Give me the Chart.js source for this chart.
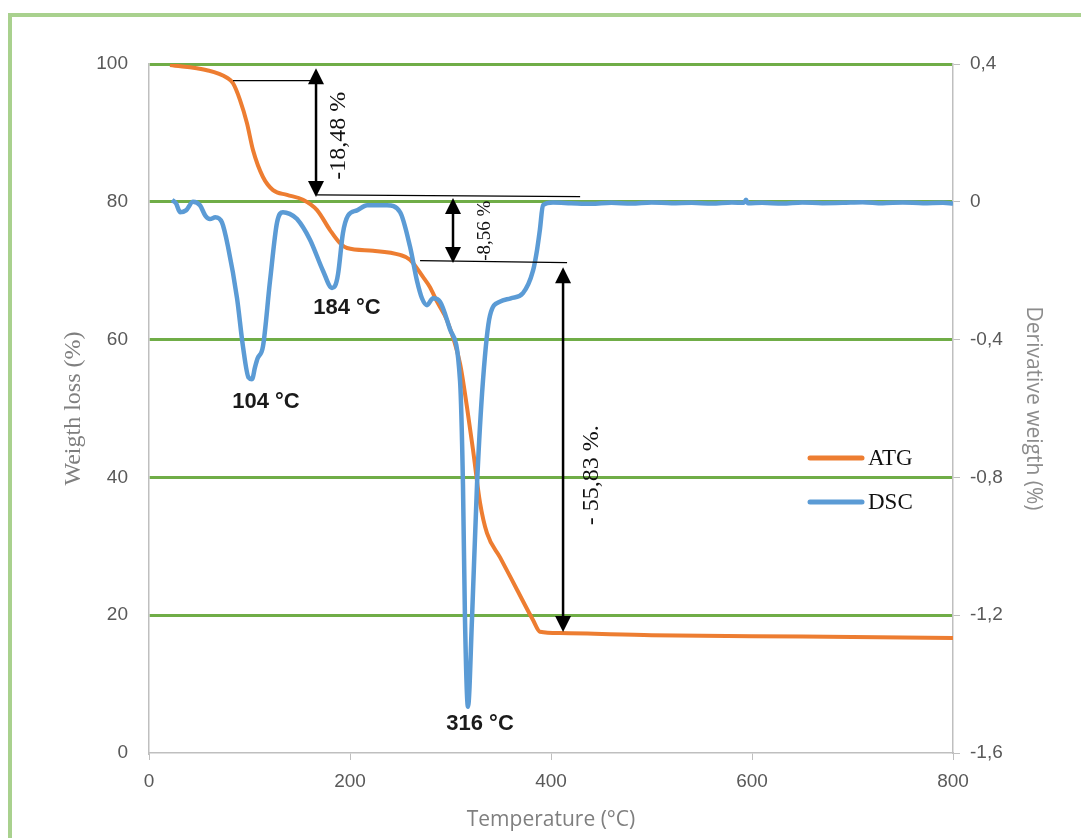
<!DOCTYPE html>
<html><head><meta charset="utf-8">
<script src="https://cdn.jsdelivr.net/npm/chart.js@4.4.1/dist/chart.umd.min.js"></script>
<style>html,body{margin:0;padding:0;background:#fff}#wrap{width:1081px;height:838px;position:relative}</style>
</head><body><div id="wrap"><canvas id="c"></canvas></div>
<script>
// ---------- DATA ----------
const seriesNames = ['ATG', 'DSC'];
const atgTemp   = [20.9, 57.7, 77.6, 83.6, 90.5, 97.5, 103.5, 113.4, 123.4, 137.3, 153.2, 167.2, 180.1, 190, 197, 222.9, 249.8, 259.7, 272.6, 279.6, 286.6, 296.5, 309.5, 316.4, 322.4, 329.4, 336.3, 349.3, 366.2, 382.1, 389, 409, 500, 650, 800];
const atgWeight = [99.85, 99.1, 98.0, 97.2, 94.8, 91.4, 87.5, 83.6, 81.7, 81.0, 80.3, 78.8, 75.9, 74.0, 73.3, 72.9, 72.3, 71.6, 69.1, 67.6, 65.5, 62.8, 56.5, 50.2, 44.0, 36.3, 31.9, 28.4, 23.7, 19.3, 17.6, 17.4, 17.1, 16.9, 16.7];
const dscTemp  = [22.9, 27, 30.8, 36.8, 43.8, 50.7, 56, 60.7, 66, 72.6, 78.6, 87.6, 93.5, 99, 102.5, 105.5, 108, 113.4, 120.4, 127.4, 133.3, 140, 147.3, 160.2, 173.1, 182.1, 185, 188.1, 193, 198, 207, 217, 236.8, 249.8, 259.7, 266.7, 271.6, 276.6, 282.6, 289.6, 299.5, 309.5, 312.4, 314.4, 317.4, 321.4, 326.4, 332.3, 339.3, 349.3, 360, 372.1, 382.1, 386.1, 389, 392, 402, 420, 440, 460, 480, 500, 520, 540, 560, 580, 592, 594, 596, 610, 630, 650, 670, 690, 710, 730, 750, 770, 790, 800];
const dscDeriv = [0.005, -0.005, -0.03, -0.025, 0.0, -0.01, -0.04, -0.05, -0.045, -0.06, -0.13, -0.28, -0.42, -0.51, -0.515, -0.48, -0.455, -0.42, -0.23, -0.06, -0.03, -0.035, -0.05, -0.11, -0.2, -0.25, -0.245, -0.21, -0.09, -0.04, -0.025, -0.01, -0.01, -0.03, -0.13, -0.23, -0.28, -0.3, -0.28, -0.29, -0.37, -0.52, -0.82, -1.21, -1.466, -1.21, -0.82, -0.52, -0.33, -0.29, -0.28, -0.265, -0.2, -0.14, -0.08, -0.01, -0.002, -0.004, -0.006, -0.003, -0.005, -0.002, -0.004, -0.003, -0.005, -0.002, -0.003, 0.006, -0.004, -0.003, -0.005, -0.002, -0.004, -0.003, -0.001, -0.004, -0.002, -0.004, -0.003, -0.005];

const xTicks = [0, 200, 400, 600, 800];
const leftTicks = [0, 20, 40, 60, 80, 100];
const rightTicks = [-1.6, -1.2, -0.8, -0.4, 0, 0.4];
const rightTickLabels = ['-1,6', '-1,2', '-0,8', '-0,4', '0', '0,4'];

// annotations (data units: temperature, weight %)
const guideStartT = [83.6, 167, 269.7];
const guideStartW = [97.6, 81.0, 71.45];
const guideEndT   = [166, 429, 416];
const guideEndW   = [97.6, 80.74, 71.16];
const arrowT      = [166.2, 302.5, 412];
const arrowTopW   = [99.4, 80.55, 70.5];
const arrowBotW   = [80.7, 71.1, 17.56];
const stepLabels  = ['-18,48 %', '-8,56 %', '- 55,83 %.'];
const stepLabelT  = [189, 334.3, 440.8];
const stepLabelW  = [89.6, 75.8, 40.3];
const stepLabelSize = [24, 19, 24];
const peakLabels  = ['104 °C', '184 °C', '316 °C'];
const peakT       = [116.4, 197, 329.4];
const peakW       = [50.9, 64.6, 4.2];

// ---------- COLORS ----------
const ORANGE = '#ed7d31', BLUE = '#5b9bd5', GRID = '#70ad47', AXIS = '#bfbfbf', FRAME = '#a9d18e';

const atgData = atgTemp.map((t, i) => ({x: t, y: atgWeight[i]}));
const dscData = dscTemp.map((t, i) => ({x: t, y: dscDeriv[i]}));

const framePlugin = {
  id: 'frame',
  beforeDraw(chart) {
    const ctx = chart.ctx;
    ctx.save();
    ctx.fillStyle = '#fff';
    ctx.fillRect(0, 0, chart.width, chart.height);
    ctx.strokeStyle = FRAME;
    ctx.lineWidth = 4;
    ctx.beginPath();
    ctx.moveTo(10, chart.height + 5);
    ctx.lineTo(10, 15);
    ctx.lineTo(chart.width + 5, 15);
    ctx.stroke();
    ctx.restore();
  }
};

function arrowHead(ctx, x, y, dir, w, l) {
  ctx.beginPath();
  ctx.moveTo(x, y);
  ctx.lineTo(x - w / 2, y + dir * l);
  ctx.lineTo(x + w / 2, y + dir * l);
  ctx.closePath();
  ctx.fill();
}

const annotPlugin = {
  id: 'annot',
  afterDatasetsDraw(chart) {
    const ctx = chart.ctx, xs = chart.scales.x, ys = chart.scales.y;
    const ca = chart.chartArea;
    ctx.save();
    ctx.strokeStyle = '#000';
    ctx.fillStyle = '#000';
    ctx.lineWidth = 1.2;
    for (let i = 0; i < guideStartT.length; i++) {
      ctx.beginPath();
      ctx.moveTo(xs.getPixelForValue(guideStartT[i]), ys.getPixelForValue(guideStartW[i]));
      ctx.lineTo(xs.getPixelForValue(guideEndT[i]), ys.getPixelForValue(guideEndW[i]));
      ctx.stroke();
    }
    for (let i = 0; i < arrowT.length; i++) {
      const x = xs.getPixelForValue(arrowT[i]);
      const y1 = ys.getPixelForValue(arrowTopW[i]);
      const y2 = ys.getPixelForValue(arrowBotW[i]);
      ctx.lineWidth = 2.5;
      ctx.beginPath();
      ctx.moveTo(x, y1 + 8);
      ctx.lineTo(x, y2 - 8);
      ctx.stroke();
      arrowHead(ctx, x, y1, 1, 16, 16);
      arrowHead(ctx, x, y2, -1, 16, 16);
    }
    ctx.textAlign = 'center';
    ctx.textBaseline = 'middle';
    for (let i = 0; i < stepLabels.length; i++) {
      const x = xs.getPixelForValue(stepLabelT[i]);
      const y = ys.getPixelForValue(stepLabelW[i]);
      ctx.save();
      ctx.translate(x, y);
      ctx.rotate(-Math.PI / 2);
      ctx.font = stepLabelSize[i] + 'px "Liberation Serif", "DejaVu Serif", serif';
      ctx.fillStyle = '#111';
      ctx.fillText(stepLabels[i], 0, 0);
      ctx.restore();
    }
    ctx.font = 'bold 22px "Liberation Sans", Arial, sans-serif';
    ctx.fillStyle = '#1a1a1a';
    for (let i = 0; i < peakLabels.length; i++) {
      ctx.fillText(peakLabels[i], xs.getPixelForValue(peakT[i]), ys.getPixelForValue(peakW[i]));
    }
    const colors = [ORANGE, BLUE];
    const lx = ca.left + 661, lw = 52;
    const lys = [ca.top + 394, ca.top + 438];
    ctx.textAlign = 'left';
    ctx.font = '23px "Liberation Serif", "DejaVu Serif", serif';
    for (let i = 0; i < seriesNames.length; i++) {
      ctx.strokeStyle = colors[i];
      ctx.lineWidth = 5;
      ctx.lineCap = 'round';
      ctx.beginPath();
      ctx.moveTo(lx, lys[i]);
      ctx.lineTo(lx + lw, lys[i]);
      ctx.stroke();
      ctx.fillStyle = '#111';
      ctx.fillText(seriesNames[i], lx + lw + 6, lys[i] + 1);
    }
    ctx.restore();
  }
};

const tickFont = {family: '"Liberation Sans", Arial, sans-serif', size: 19};

new Chart(document.getElementById('c'), {
  type: 'line',
  data: {
    datasets: [
      {label: seriesNames[0], data: atgData, yAxisID: 'y', borderColor: ORANGE, borderWidth: 4,
       pointRadius: 0, cubicInterpolationMode: 'monotone', order: 1},
      {label: seriesNames[1], data: dscData, yAxisID: 'y1', borderColor: BLUE, borderWidth: 4.5,
       pointRadius: 0, cubicInterpolationMode: 'monotone', order: 0}
    ]
  },
  options: {
    responsive: true,
    maintainAspectRatio: false,
    animation: false,
    layout: {padding: {left: 59, right: 35, top: 64, bottom: 5}},
    plugins: {legend: {display: false}, tooltip: {enabled: false}},
    scales: {
      x: {
        type: 'linear', min: 0, max: 800,
        afterBuildTicks: a => { a.ticks = xTicks.map(v => ({value: v})); },
        afterFit: s => { s.height = 80; },
        grid: {drawOnChartArea: false, drawTicks: true, tickLength: 7, color: AXIS},
        border: {color: AXIS, width: 1.5},
        ticks: {font: tickFont, color: '#595959', padding: 10, maxRotation: 0},
        title: {display: true, text: 'Temperature (°C)', color: '#7f7f7f', padding: 0,
                font: {family: '"Open Sans", sans-serif', size: 21}}
      },
      y: {
        position: 'left', min: 0, max: 100,
        afterBuildTicks: a => { a.ticks = leftTicks.map(v => ({value: v})); },
        afterFit: s => { s.width = 90; },
        grid: {drawTicks: false, color: c => (c.tick && c.tick.value === 0) ? 'rgba(0,0,0,0)' : GRID, lineWidth: 3},
        border: {color: AXIS, width: 1.5},
        ticks: {font: tickFont, color: '#595959', padding: 21},
        title: {display: true, text: 'Weigth loss (%)', color: '#7f7f7f', padding: 0,
                font: {family: '"Liberation Serif", serif', size: 24}}
      },
      y1: {
        position: 'right', min: -1.6, max: 0.4,
        afterBuildTicks: a => { a.ticks = rightTicks.map(v => ({value: v})); },
        afterFit: s => { s.width = 93; },
        grid: {drawOnChartArea: false, drawTicks: true, tickLength: 7, color: AXIS},
        border: {color: AXIS, width: 1.5},
        ticks: {font: tickFont, color: '#595959', padding: 10,
                callback: (v) => rightTickLabels[rightTicks.findIndex(t => Math.abs(t - v) < 1e-9)]},
        title: {display: true, text: 'Derivative weigth (%)', color: '#8c8c8c', padding: 0,
                font: {family: '"Open Sans", sans-serif', size: 21}}
      }
    }
  },
  plugins: [framePlugin, annotPlugin]
});
</script>
</body></html>
